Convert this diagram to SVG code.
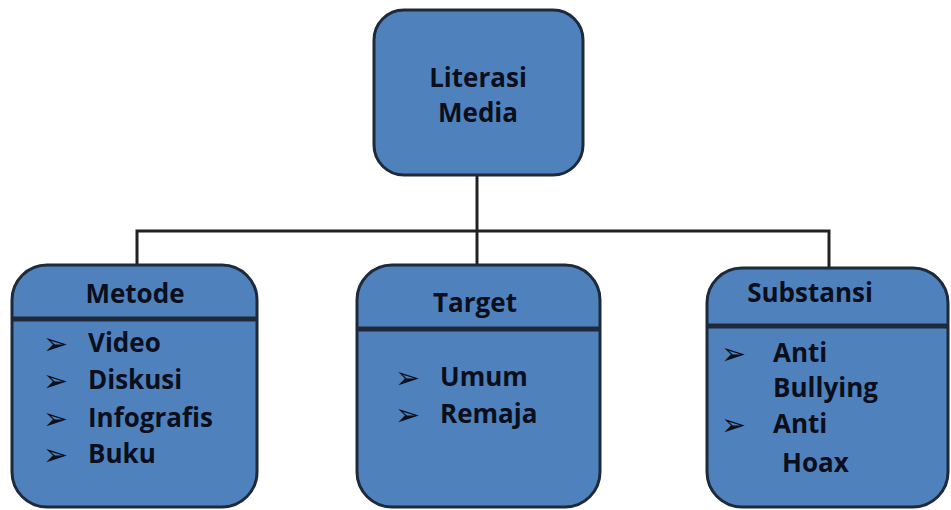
<svg xmlns="http://www.w3.org/2000/svg" width="951" height="510" viewBox="0 0 951 510">
<style>
.box{fill:#4F81BD;stroke:#1e2a3a;stroke-width:3}
.div{stroke:#1e2a3a;stroke-width:5}
.t{font-family:"Open Sans","Noto Sans","Liberation Sans",sans-serif;font-weight:700;font-size:26px;fill:#0b0f1c}
.c{text-anchor:middle}
.b{font-family:"DejaVu Sans",sans-serif;font-size:30px;fill:#0b0f1c}
.con{fill:none;stroke:#222;stroke-width:3}
</style>
<rect width="951" height="510" fill="#fff"/>
<g id="connectors">
<line class="con" x1="477" y1="175" x2="477" y2="266"/>
<polyline class="con" points="137,266 137,231 829,231 829,268"/>
</g>
<g id="literasi-media">
<rect class="box" x="374" y="10" width="209" height="165" rx="30"/>
<text class="t c" x="478" y="87">Literasi</text>
<text class="t c" x="478" y="122">Media</text>
</g>
<g id="metode">
<rect class="box" x="12" y="265" width="245" height="242" rx="35"/>
<line class="div" x1="12" y1="319" x2="257" y2="319"/>
<text class="t c" x="135" y="303">Metode</text>
<text class="b" x="43" y="354">➢</text><text class="t" x="88" y="352">Video</text>
<text class="b" x="43" y="391">➢</text><text class="t" x="88" y="389">Diskusi</text>
<text class="b" x="43" y="429">➢</text><text class="t" x="88" y="427">Infografis</text>
<text class="b" x="43" y="465">➢</text><text class="t" x="88" y="463">Buku</text>
</g>
<g id="target">
<rect class="box" x="357" y="265" width="243" height="242" rx="35"/>
<line class="div" x1="357" y1="329" x2="600" y2="329"/>
<text class="t c" x="475" y="312">Target</text>
<text class="b" x="395" y="388">➢</text><text class="t" x="440" y="386">Umum</text>
<text class="b" x="395" y="425">➢</text><text class="t" x="440" y="423">Remaja</text>
</g>
<g id="substansi">
<rect class="box" x="707" y="268" width="241" height="239" rx="35"/>
<line class="div" x1="707" y1="326" x2="948" y2="326"/>
<text class="t c" x="810" y="302">Substansi</text>
<text class="b" x="721" y="364">➢</text><text class="t" x="773" y="362">Anti</text>
<text class="t" x="773" y="397">Bullying</text>
<text class="b" x="721" y="435">➢</text><text class="t" x="773" y="433">Anti</text>
<text class="t" x="782" y="472">Hoax</text>
</g>
</svg>
